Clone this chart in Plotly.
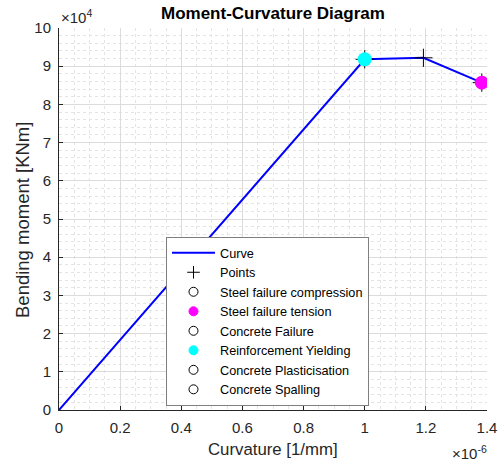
import plotly.graph_objects as go

# ---- data ----
curve_x = [0.0, 1.0e-6, 1.192e-6, 1.383e-6]
curve_y = [0.0, 9.18e4, 9.22e4, 8.57e4]
points_x = [1.0e-6, 1.192e-6, 1.383e-6]
points_y = [9.18e4, 9.22e4, 8.57e4]
yielding_x = [1.0e-6]
yielding_y = [9.18e4]
steel_tension_x = [1.383e-6]
steel_tension_y = [8.57e4]
x_tick_labels = ["0", "0.2", "0.4", "0.6", "0.8", "1", "1.2", "1.4"]
y_tick_labels = ["0", "1", "2", "3", "4", "5", "6", "7", "8", "9", "10"]
x_scale = 1e-6
y_scale = 1e4

FONT = "Liberation Sans, Arial, sans-serif"
AX = "#262626"
L, R, T, B = 59, 13, 28, 54
W, H = 500, 464
PW, PH = W - L - R, H - T - B

fig = go.Figure()
fig.add_trace(go.Scatter(x=curve_x, y=curve_y, mode="lines", name="Curve",
                         line=dict(color="#0000ff", width=2)))
fig.add_trace(go.Scatter(x=points_x, y=points_y, mode="markers", showlegend=False,
                         marker=dict(symbol="cross-thin", size=13, color="black",
                                     line=dict(color="black", width=1))))

legend_items = [
    ("Points", "cross-thin", "black"),
    ("Steel failure compression", "circle-open", "black"),
    ("Steel failure tension", "circle", "#ff00ff"),
    ("Concrete Failure", "circle-open", "black"),
    ("Reinforcement Yielding", "circle", "#00ffff"),
    ("Concrete Plasticisation", "circle-open", "black"),
    ("Concrete Spalling", "circle-open", "black"),
]
for name, sym, col in legend_items:
    fig.add_trace(go.Scatter(x=[None], y=[None], mode="markers", name=name,
                             marker=dict(symbol=sym, size=9, color=col,
                                         line=dict(color=col, width=1))))

fig.add_trace(go.Scatter(x=yielding_x, y=yielding_y, mode="markers", showlegend=False,
                         marker=dict(symbol="circle", size=14, color="#00ffff")))
fig.add_trace(go.Scatter(x=steel_tension_x, y=steel_tension_y, mode="markers", showlegend=False,
                         marker=dict(symbol="circle", size=14, color="#ff00ff")))

x_tick_vals = [float(t) * x_scale for t in x_tick_labels]
y_tick_vals = [float(t) * y_scale for t in y_tick_labels]

common = dict(showline=True, linecolor=AX, linewidth=1, mirror=False,
              ticks="inside", ticklen=4, tickcolor=AX, automargin=False,
              showgrid=True, gridcolor="#dcdcdc", gridwidth=1, zeroline=False,
              tickfont=dict(family=FONT, size=15, color=AX))
fig.update_xaxes(range=[0, 1.4e-6], tickvals=x_tick_vals, ticktext=x_tick_labels,
                 ticklabelstandoff=4,
                 minor=dict(dtick=0.05e-6, tick0=0, showgrid=True, gridcolor="#e4e4e4",
                            griddash="dot", ticks=""), **common)
fig.update_yaxes(range=[0, 10e4], tickvals=y_tick_vals, ticktext=y_tick_labels,
                 ticklabelstandoff=4,
                 minor=dict(dtick=0.2e4, tick0=0, showgrid=True, gridcolor="#e4e4e4",
                            griddash="dot", ticks=""), **common)

def px(xp):
    return (xp - L) / PW

def py(yp):
    return (H - B - yp) / PH

fig.update_layout(
    width=W, height=H,
    margin=dict(l=L, r=R, t=T, b=B),
    plot_bgcolor="white", paper_bgcolor="white",
    legend=dict(x=px(166), y=py(237), xanchor="left", yanchor="top",
                bgcolor="white", bordercolor="#7f7f7f", borderwidth=1,
                font=dict(family=FONT, size=12.7, color="black"),
                itemwidth=43, entrywidth=160, tracegroupgap=0),
    annotations=[
        dict(text="<b>Moment-Curvature Diagram</b>", xref="paper", yref="paper",
             x=px(273), y=py(13), xanchor="center", yanchor="middle", showarrow=False,
             font=dict(family=FONT, size=17, color="black")),
        dict(text="Curvature [1/mm]", xref="paper", yref="paper",
             x=px(273), y=py(450), xanchor="center", yanchor="middle", showarrow=False,
             font=dict(family=FONT, size=16.8, color=AX)),
        dict(text="Bending moment [KNm]", xref="paper", yref="paper", textangle=-90,
             x=px(22), y=py(220), xanchor="center", yanchor="middle", showarrow=False,
             font=dict(family=FONT, size=18.5, color=AX)),
        dict(text="×10<sup>4</sup>", xref="paper", yref="paper", x=px(59), y=py(17),
             xanchor="left", yanchor="middle", showarrow=False,
             font=dict(family=FONT, size=15, color=AX)),
        dict(text="×10<sup>-6</sup>", xref="paper", yref="paper", x=px(489), y=py(453),
             xanchor="right", yanchor="middle", showarrow=False,
             font=dict(family=FONT, size=15, color=AX)),
    ],
)

fig.write_html("out.html", config={"displayModeBar": False},
               post_script="document.body.style.margin='0px';document.body.style.padding='0px';")
